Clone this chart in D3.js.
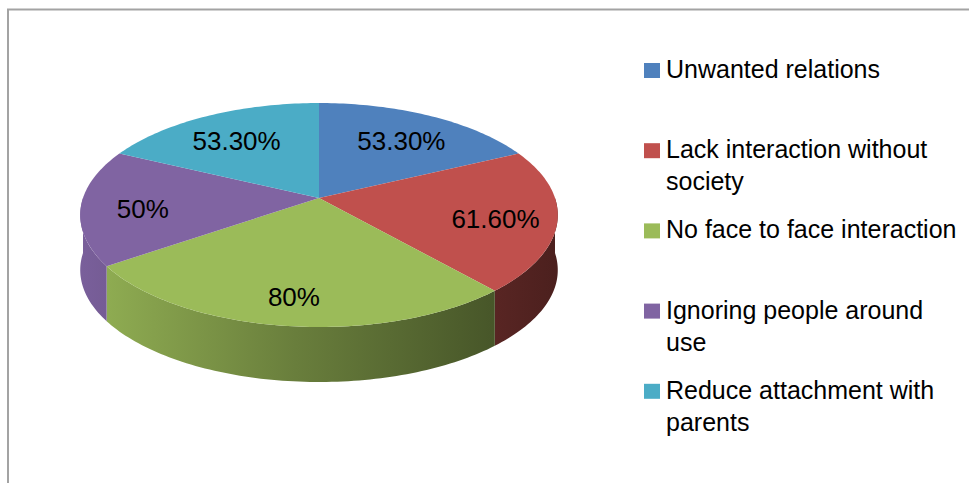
<!DOCTYPE html>
<html>
<head>
<meta charset="utf-8">
<script src="https://cdn.jsdelivr.net/npm/d3@7"></script>
<style>
  body { margin: 0; background: #fff; }
  svg { display: block; font-family: Arial, "Liberation Sans", sans-serif; }
</style>
</head>
<body>
<div id="chart"></div>
<script>
// chart data
var categories = [
    "Unwanted relations",
    "Lack interaction without\nsociety",
    "No face to face interaction",
    "Ignoring people around\nuse",
    "Reduce attachment with\nparents"
];
var values = [53.3, 61.6, 80, 50, 53.3];
var valueLabels = ["53.30%", "61.60%", "80%", "50%", "53.30%"];
var colors = ["#4f81bd", "#c0504d", "#9bbb59", "#8064a2", "#4bacc6"];

var width = 969, height = 483;

var svg = d3.select("#chart").append("svg")
    .attr("width", width)
    .attr("height", height);

// outer frame (only top/left visible)
svg.append("rect")
    .attr("x", 8).attr("y", 9.5)
    .attr("width", 1000).attr("height", 600)
    .attr("fill", "none")
    .attr("stroke", "#a3a3a3")
    .attr("stroke-width", 2);

// 3d pie geometry
var cx = 319, cy = 198, R = 236, K = 109.4, persp = 0.152, depth = 55;

function project(a, f) {
    f = f == null ? 1 : f;
    var s = 1 / (1 + persp * Math.cos(a));
    return [cx + R * f * Math.sin(a) * s, cy - K * f * Math.cos(a) * s];
}

function arcPoints(a0, a1, dy) {
    var n = Math.max(2, Math.ceil((a1 - a0) / 0.02));
    var pts = [];
    for (var i = 0; i <= n; i++) {
        var p = project(a0 + (a1 - a0) * i / n);
        pts.push([p[0], p[1] + (dy || 0)]);
    }
    return pts;
}

var pie = d3.pie().sort(null).value(function(d) { return d; });
var arcs = pie(values);
var line = d3.line();

var defs = svg.append("defs");
arcs.forEach(function(d, i) {
    var c = colors[i];
    var g = defs.append("linearGradient")
        .attr("id", "side" + i)
        .attr("gradientUnits", "userSpaceOnUse")
        .attr("x1", cx - R).attr("x2", cx + R)
        .attr("y1", 0).attr("y2", 0);
    g.append("stop").attr("offset", "0%").attr("stop-color", d3.color(c).darker(0.15));
    g.append("stop").attr("offset", "45%").attr("stop-color", d3.color(c).darker(1.1));
    g.append("stop").attr("offset", "100%").attr("stop-color", d3.color(c).darker(2.6));
});

// visible outer walls (front half only)
var sides = svg.append("g");
arcs.forEach(function(d, i) {
    var b0 = Math.max(d.startAngle, Math.PI / 2);
    var b1 = Math.min(d.endAngle, Math.PI * 1.5);
    if (b1 <= b0) return;
    var top = arcPoints(b0, b1, 0);
    var bottom = arcPoints(b0, b1, depth).reverse();
    sides.append("path")
        .attr("d", line(top.concat(bottom)) + "Z")
        .attr("fill", "url(#side" + i + ")");
});

// top faces
var tops = svg.append("g");
arcs.forEach(function(d, i) {
    var pts = [[cx, cy]].concat(arcPoints(d.startAngle, d.endAngle, 0));
    tops.append("path")
        .attr("d", line(pts) + "Z")
        .attr("fill", colors[i]);
});

// data labels
svg.append("g").selectAll("text")
    .data(arcs)
    .enter().append("text")
    .attr("x", function(d) { return project((d.startAngle + d.endAngle) / 2, 0.74)[0]; })
    .attr("y", function(d) { return project((d.startAngle + d.endAngle) / 2, 0.74)[1] + 4; })
    .attr("dy", "0.35em")
    .attr("text-anchor", "middle")
    .style("font-size", "26px")
    .attr("fill", "#000")
    .text(function(d, i) { return valueLabels[i]; });

// legend
var legend = svg.append("g").attr("transform", "translate(644,78)");
var items = legend.selectAll("g")
    .data(categories)
    .enter().append("g")
    .attr("transform", function(d, i) { return "translate(0," + (i * 80.2) + ")"; });

items.append("rect")
    .attr("x", 0).attr("y", -15)
    .attr("width", 16).attr("height", 15)
    .attr("fill", function(d, i) { return colors[i]; });

items.append("text")
    .attr("x", 22)
    .style("font-size", "25px")
    .attr("fill", "#000")
    .each(function(d) {
        var t = d3.select(this);
        d.split("\n").forEach(function(s, j) {
            t.append("tspan").attr("x", 22).attr("dy", j ? 32 : 0).text(s);
        });
    });
</script>
</body>
</html>
